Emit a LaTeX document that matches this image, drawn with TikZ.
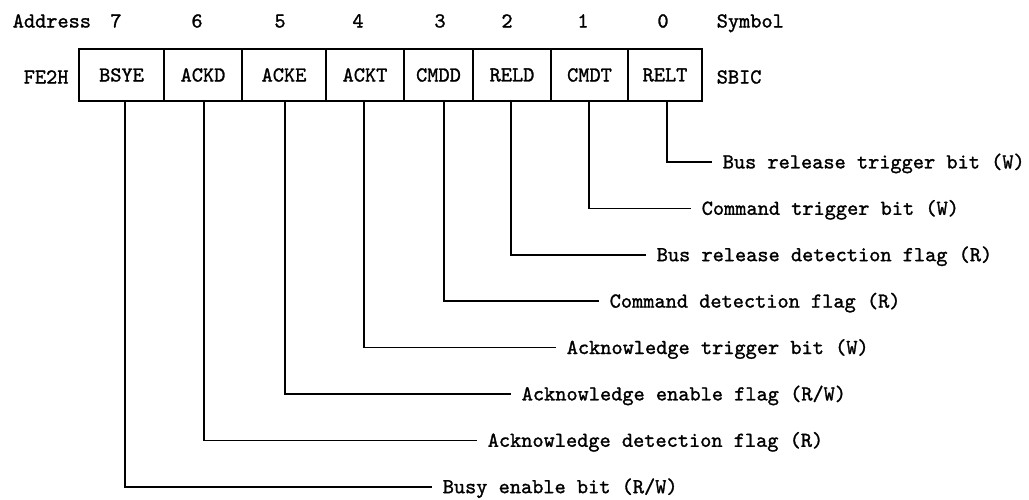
\documentclass[tikz,border=0pt]{standalone}
\usepackage{fontspec}
\newfontfamily\tyfont{lmmono10-regular.otf}[FakeBold=1.3]
\begin{document}
\begin{tikzpicture}[x=1pt,y=-1pt, line width=1.5pt,
  every node/.style={font=\fontsize{21.3}{25}\selectfont\tyfont},
  cellbox/.style={draw, minimum height=52pt, inner sep=0pt},
  hdr/.style={inner sep=0pt, text height=13pt, text depth=0pt},
  hdrw/.style={inner sep=0pt, anchor=west, text height=13pt, text depth=0pt},
  lbl/.style={anchor=west, inner xsep=10pt, inner ysep=0pt, text height=12.8pt, text depth=0pt},
  conn/.style={line width=1.5pt}]
\useasboundingbox (0,0) rectangle (1029,499);
% header
\node[hdrw] (addr) at (12,21) {Address};
\node[hdr] (b7) at (116,21) {7};
\node[hdr] (b6) at (197,21) {6};
\node[hdr] (b5) at (280,21) {5};
\node[hdr] (b4) at (358,21) {4};
\node[hdr] (b3) at (440,21) {3};
\node[hdr] (b2) at (507,21) {2};
\node[hdr] (b1) at (583,21) {1};
\node[hdr] (b0) at (663,21) {0};
\node[hdrw] (sym) at (716,21) {Symbol};
% register row
\node[hdrw] (adv) at (23,77) {FE2H};
\node[cellbox, minimum width=85pt] (c7) at (121.5,75) {BSYE};
\node[cellbox, minimum width=78pt] (c6) at (203,75) {ACKD};
\node[cellbox, minimum width=84pt] (c5) at (284,75) {ACKE};
\node[cellbox, minimum width=78pt] (c4) at (365,75) {ACKT};
\node[cellbox, minimum width=69pt] (c3) at (438.5,75) {CMDD};
\node[cellbox, minimum width=78pt] (c2) at (512,75) {RELD};
\node[cellbox, minimum width=77pt] (c1) at (589.5,75) {CMDT};
\node[cellbox, minimum width=74pt] (c0) at (665,75) {RELT};
\node[hdrw] (sbic) at (716,77) {SBIC};
% labels
\node[lbl] (l0) at (712,162) {Bus release trigger bit (W)};
\node[lbl] (l1) at (691,208.4) {Command trigger bit (W)};
\node[lbl] (l2) at (646,254.8) {Bus release detection flag (R)};
\node[lbl] (l3) at (599,301.2) {Command detection flag (R)};
\node[lbl] (l4) at (556,347.6) {Acknowledge trigger bit (W)};
\node[lbl] (l5) at (511,394) {Acknowledge enable flag (R/W)};
\node[lbl] (l6) at (477,440.4) {Acknowledge detection flag (R)};
\node[lbl] (l7) at (432,486.8) {Busy enable bit (R/W)};
% connectors
\draw[conn] ([xshift=2pt]c0.south) |- (l0.west);
\draw[conn] ([xshift=-0.5pt]c1.south) |- (l1.west);
\draw[conn] ([xshift=-1pt]c2.south) |- (l2.west);
\draw[conn] ([xshift=5.5pt]c3.south) |- (l3.west);
\draw[conn] ([xshift=-1pt]c4.south) |- (l4.west);
\draw[conn] ([xshift=1pt]c5.south) |- (l5.west);
\draw[conn] ([xshift=1pt]c6.south) |- (l6.west);
\draw[conn] ([xshift=3.5pt]c7.south) |- (l7.west);
\end{tikzpicture}
\end{document}
